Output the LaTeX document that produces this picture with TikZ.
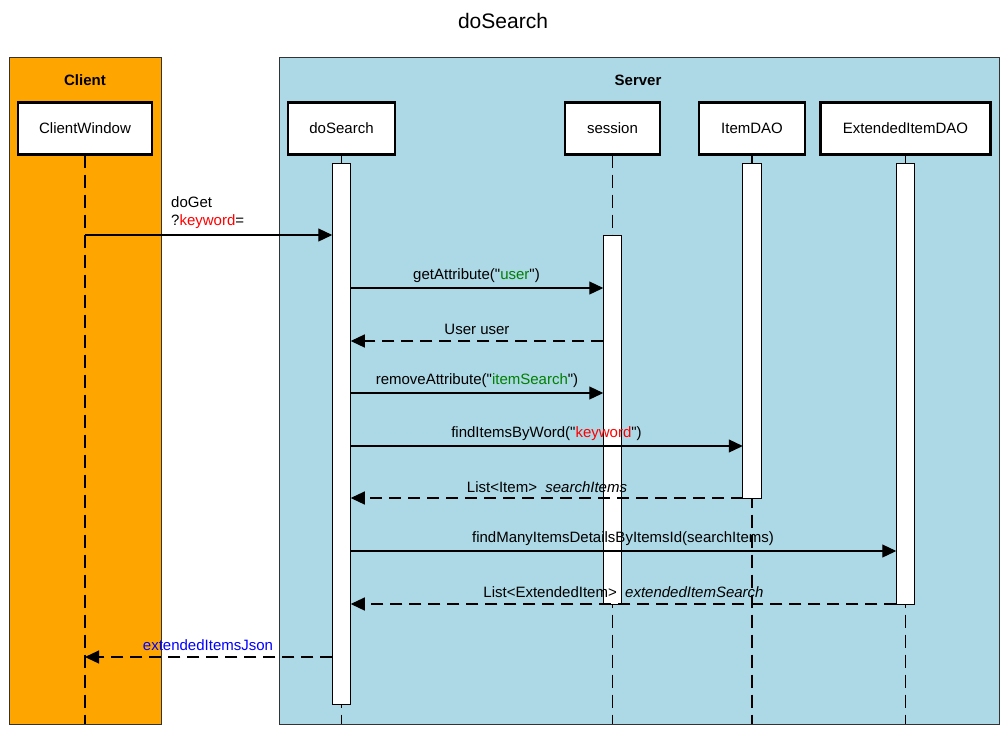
\documentclass[tikz,border=0pt]{standalone}
\usepackage{fontspec}
\setmainfont{Liberation Sans}[Ligatures=TeXOff]
\usetikzlibrary{arrows.meta}
\definecolor{clientbg}{HTML}{FFA500}
\definecolor{serverbg}{HTML}{ADD8E6}
\definecolor{dgreen}{HTML}{008000}
\definecolor{kred}{HTML}{FF0000}
\definecolor{jblue}{HTML}{0000FF}
\newcommand{\fs}{\fontsize{15}{18}\selectfont}
\begin{document}
\begin{tikzpicture}[x=1pt,y=-1pt,
  frame/.style={draw=black!80, line width=1pt, inner sep=0pt, outer sep=0pt},
  frametitle/.style={font=\fs\bfseries, inner sep=0pt},
  part/.style={draw=black, line width=2.6pt, fill=white, minimum height=52pt, inner sep=0pt, outer sep=0pt, font=\fs},
  actbar/.style={draw=black, line width=1pt, fill=white, minimum width=18.5pt, inner sep=0pt, outer sep=0pt},
  life/.style={draw=black, line width=1.3pt, dash pattern=on 13pt off 7pt},
  msg/.style={draw=black, line width=1.2pt, -{Triangle[length=14pt,width=13pt]}},
  ret/.style={msg, dash pattern=on 12pt off 7pt},
  lbl/.style={font=\fs, inner sep=0pt}
]
\useasboundingbox (0,0) rectangle (1006,732);

% title
\node[font=\fontsize{21}{25}\selectfont, inner sep=0pt] (title) at (503,21) {doSearch};

% frames
\node[frame, fill=clientbg, minimum width=152pt, minimum height=667pt] (client) at (85,390.5) {};
\node[frame, fill=serverbg, minimum width=720pt, minimum height=667pt] (server) at (639,390.5) {};
\node[frametitle] (clientlbl) at (85,80) {Client};
\node[frametitle] (serverlbl) at (638,80) {Server};

% participants
\node[part, minimum width=134pt] (cw) at (85,128.5) {ClientWindow};
\node[part, minimum width=107pt] (ds) at (341.5,128.5) {doSearch};
\node[part, minimum width=95pt] (ses) at (612.5,128.5) {session};
\node[part, minimum width=106pt] (idao) at (752,128.5) {ItemDAO};
\node[part, minimum width=170pt] (edao) at (905.5,128.5) {ExtendedItemDAO};

% lifelines
\draw[life] (cw.south) -- (cw.south |- client.south);
\draw[life] (ds.south) -- (ds.south |- server.south);
\draw[life] (ses.south) -- (ses.south |- server.south);
\draw[life] (idao.south) -- (idao.south |- server.south);
\draw[life] (edao.south) -- (edao.south |- server.south);

% activation bars
\node[actbar, minimum height=541pt] (dsbar) at (341.5,433.5) {};
\node[actbar, minimum height=369pt] (sesbar) at (612.5,419.5) {};
\node[actbar, minimum height=335pt] (idaobar) at (752,330.5) {};
\node[actbar, minimum height=441pt] (edaobar) at (905.5,383.5) {};

% messages
\draw[msg] (cw.south |- 0,235) -- (dsbar.west |- 0,235);
\draw[msg] (dsbar.east |- 0,288) -- (sesbar.west |- 0,288);
\draw[ret] (sesbar.west |- 0,341) -- (dsbar.east |- 0,341);
\draw[msg] (dsbar.east |- 0,393) -- (sesbar.west |- 0,393);
\draw[msg] (dsbar.east |- 0,446) -- (idaobar.west |- 0,446);
\draw[ret] (idaobar.west |- 0,498) -- (dsbar.east |- 0,498);
\draw[msg] (dsbar.east |- 0,551) -- (edaobar.west |- 0,551);
\draw[ret] (edaobar.west |- 0,604) -- (dsbar.east |- 0,604);
\draw[ret] (dsbar.west |- 0,657) -- (cw.south |- 0,657);

% labels
\node[lbl, anchor=west, align=left] (l1) at (171,213) {doGet\\?\textcolor{kred}{keyword}=};
\node[lbl] (l2) at (476.5,276) {getAttribute("\textcolor{dgreen}{user}")};
\node[lbl] (l3) at (477,329) {User user};
\node[lbl] (l4) at (477,381) {removeAttribute("\textcolor{dgreen}{itemSearch}")};
\node[lbl] (l5) at (546.5,434) {findItemsByWord("\textcolor{kred}{keyword}")};
\node[lbl] (l6) at (547,487) {List<Item>\ \ \textit{searchItems}};
\node[lbl] (l7) at (623,539) {findManyItemsDetailsByItemsId(searchItems)};
\node[lbl] (l8) at (623.5,592) {List<ExtendedItem>\ \ \textit{extendedItemSearch}};
\node[lbl, text=jblue] (l9) at (208,645) {extendedItemsJson};
\end{tikzpicture}
\end{document}
